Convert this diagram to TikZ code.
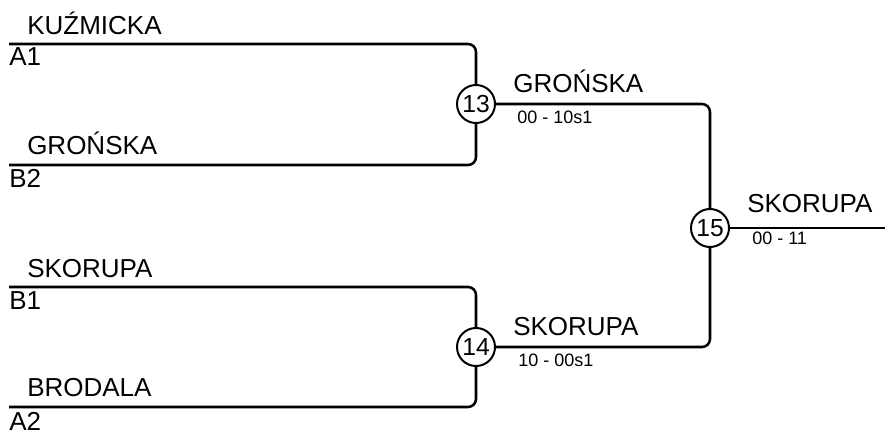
\documentclass[tikz,border=0pt]{standalone}
\usepackage{fontspec}
\setmainfont{Liberation Sans}
\usetikzlibrary{positioning}

\begin{document}
\begin{tikzpicture}[x=0.75pt, y=-0.75pt]
        \tikzstyle{bracket} = [line width=1.9pt, rounded corners=6pt]
        \tikzstyle{match} = [draw, circle, line width=1.5pt, inner sep=0pt, minimum size=28.5pt, font=\fontsize{18.5}{18.5}\selectfont]
        \tikzstyle{player} = [anchor=base west, inner sep=0pt, font=\fontsize{19.5}{19.5}\selectfont]
        \tikzstyle{score} = [anchor=base west, inner sep=0pt, font=\fontsize{13.5}{13.5}\selectfont]
        \useasboundingbox (0,0) rectangle (885,431);

        \coordinate(a1) at (9,44);
        \coordinate(b2) at (9,165);
        \coordinate(b1) at (9,287);
        \coordinate(a2) at (9,407);
        \coordinate(win) at (885,228);

        \node[match](m13) at (476,104){13};
        \node[match](m14) at (476,347){14};
        \node[match](m15) at (710,228){15};

        \draw[bracket] (a1) -| (m13);
        \draw[bracket] (b2) -| (m13);
        \draw[bracket] (b1) -| (m14);
        \draw[bracket] (a2) -| (m14);
        \draw[bracket] (m13) -| (m15);
        \draw[bracket] (m14) -| (m15);
        \draw[bracket] (m15) -- (win);

        \node[player](n1) at (27,35){KUŹMICKA};
        \node[player](s1) at (9,66){A1};
        \node[player](n2) at (27,155){GROŃSKA};
        \node[player](s2) at (9,188){B2};
        \node[player](n3) at (27,277){SKORUPA};
        \node[player](s3) at (9,309){B1};
        \node[player](n4) at (27,396){BRODALA};
        \node[player](s4) at (9,430){A2};

        \node[player](w13) at (513,93){GROŃSKA};
        \node[score](r13) at (517,124){00 - 10s1};
        \node[player](w14) at (513,335){SKORUPA};
        \node[score](r14) at (518,366){10 - 00s1};
        \node[player](w15) at (747,213){SKORUPA};
        \node[score](r15) at (752,244){00 - 11};
\end{tikzpicture}
\end{document}
